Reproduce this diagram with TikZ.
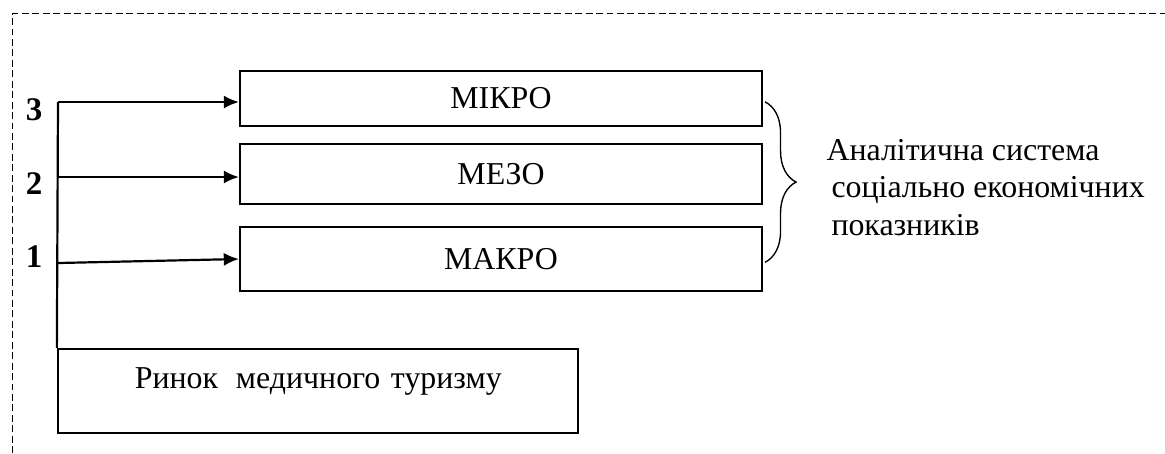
\documentclass[tikz,border=0pt]{standalone}
\usepackage{fontspec}
\setmainfont{Liberation Serif}
\usetikzlibrary{arrows.meta,decorations.pathreplacing}
\tikzset{
  levelbox/.style={draw,line width=0.8pt,minimum width=190pt,inner sep=0pt,font=\fontsize{11.6}{14}\selectfont},
  levelarrow/.style={line width=0.8pt,-{Latex[length=5.5pt,width=4.8pt]}},
  levelnum/.style={inner sep=0pt,font=\fontsize{12}{14}\selectfont\bfseries}
}
\begin{document}
\begin{tikzpicture}[x=0.364pt,y=-0.364pt]
\useasboundingbox (0,0) rectangle (1165,453);
\draw [line width=0.5pt,dash pattern=on 2.5pt off 1.3pt] (12.7,453) -- (12.7,13.3) -- (1165,13.3);
\node [levelbox,minimum height=20pt] (mikro) at (501,98.5) {МІКРО};
\node [levelbox,minimum height=21.8pt] (mezo) at (501,174) {МЕЗО};
\node [levelbox,minimum height=23.3pt] (makro) at (501,259) {МАКРО};
\node [levelbox,minimum width=189.3pt,minimum height=30.6pt,text width=189.3pt,align=left,text height=8.3pt,text depth=10.5pt] (market) at (318,391) {\hspace*{28pt}Ринок\hspace{6.5pt}медичного туризму};
\coordinate (l3) at (58,102);
\coordinate (l2) at (58,177);
\coordinate (l1) at (58,263);
\draw [line width=0.8pt] (l3) -- (market.north west);
\draw [levelarrow] (l3) -- (l3 -| mikro.west);
\draw [levelarrow] (l2) -- (l2 -| mezo.west);
\draw [levelarrow] (l1) -- (makro.west);
\node [levelnum] (n3) at (34,110) {3};
\node [levelnum] (n2) at (34,184) {2};
\node [levelnum] (n1) at (34,257) {1};
\draw [line width=0.5pt,decorate,decoration={brace,amplitude=11.3pt}] ([xshift=0.7pt,yshift=-1.2pt]mikro.east) -- ([xshift=0.7pt,yshift=-1.2pt]makro.east);
\node [anchor=west,inner sep=0pt,align=left,font=\fontsize{11.6}{13.8}\selectfont] (system) at (826,187.5) {Аналітична система\\\hspace*{1.8pt}соціально економічних\\\hspace*{1.8pt}показників};
\end{tikzpicture}
\end{document}
